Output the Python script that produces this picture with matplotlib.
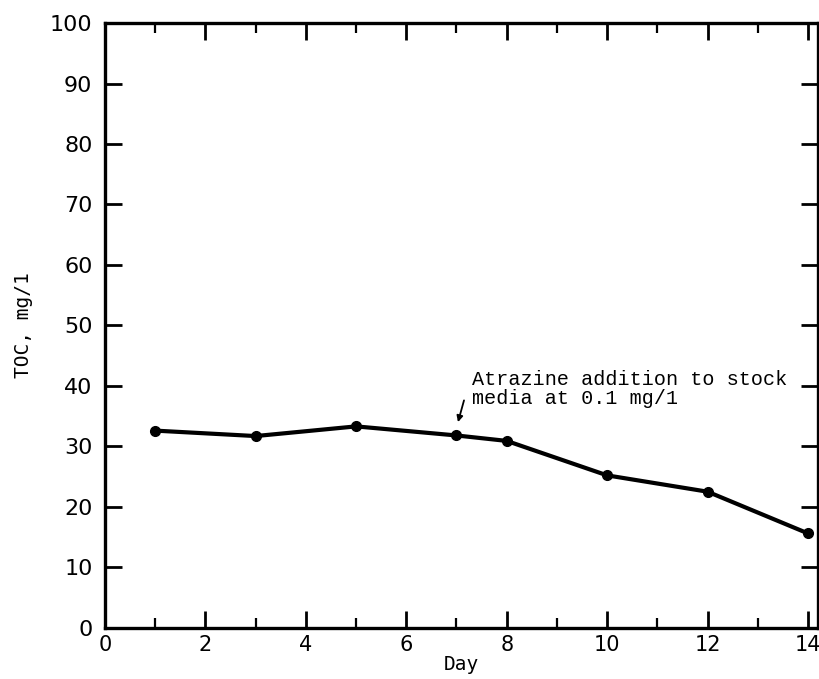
import matplotlib
matplotlib.use('Agg')
import matplotlib.pyplot as plt
from matplotlib.ticker import MultipleLocator

days = [1, 3, 5, 7, 8, 10, 12, 14]
toc = [32.6, 31.7, 33.3, 31.8, 30.9, 25.2, 22.5, 15.6]
x_ticks = [0, 2, 4, 6, 8, 10, 12, 14]
y_ticks = [0, 10, 20, 30, 40, 50, 60, 70, 80, 90, 100]
note = 'Atrazine addition to stock\nmedia at 0.1 mg/1'

fig = plt.figure(figsize=(8.2, 6.79), dpi=100)
ax = fig.add_axes([0.128, 0.0755, 0.8696, 0.8905])

ax.plot(days, toc, color='black', lw=3, marker='o', ms=7, zorder=3)

ax.set_xlim(0, 14.2)
ax.set_ylim(0, 100)
ax.set_xticks(x_ticks)
ax.set_yticks(y_ticks)
ax.set_xticklabels([str(v) for v in x_ticks])
ax.set_yticklabels([str(v) for v in y_ticks])
ax.xaxis.set_minor_locator(MultipleLocator(1))

for s in ax.spines.values():
    s.set_linewidth(2.4)

ax.tick_params(axis='both', which='major', direction='in', top=True, right=True,
               length=12, width=2, labelsize=16, pad=9)
ax.tick_params(axis='x', which='minor', direction='in', top=True,
               length=7, width=1.6)
ax.tick_params(axis='x', which='major', pad=5, labelsize=15)

# note text, then a short arrow down to the day 7 point
ax.text(7.3, 36.4, note, fontsize=14.5, family='Liberation Mono',
        linespacing=1.0, va='bottom', ha='left')
ax.annotate('', xy=(7.03, 34.0), xytext=(7.15, 37.6),
            arrowprops=dict(arrowstyle='-|>', color='black', lw=1.3,
                            mutation_scale=9, shrinkA=0, shrinkB=0))

ax.set_xlabel('Day', fontsize=14, family='DejaVu Sans Mono', labelpad=0)
ax.set_ylabel('TOC, mg/1', fontsize=14, family='DejaVu Sans Mono', labelpad=12)

fig.savefig('out.png', dpi=100, facecolor='white')
